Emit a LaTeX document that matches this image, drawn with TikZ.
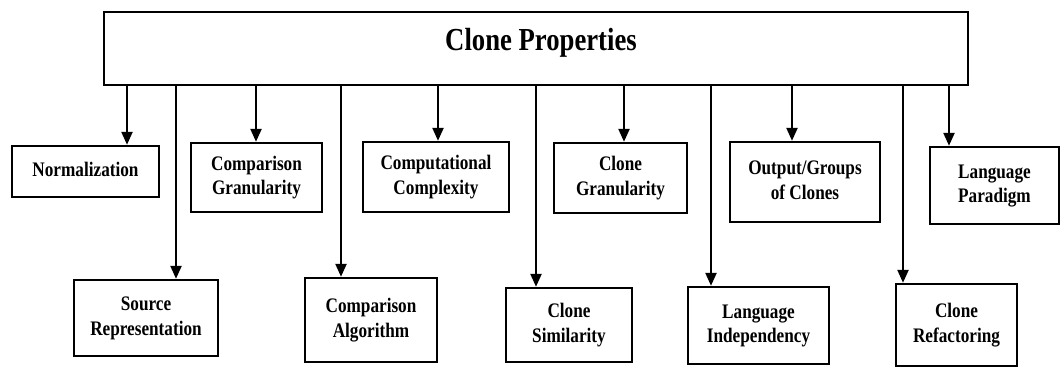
\documentclass[tikz,border=0pt]{standalone}
\usepackage{graphicx}
\usepackage{fontspec}
\setmainfont{Liberation Serif}
\usetikzlibrary{arrows.meta}
\newcommand\vtxt[1]{\scalebox{1}[1.2]{\fontsize{17.2}{20.8}\selectfont\bfseries\begin{tabular}{@{}c@{}}#1\end{tabular}}}
\begin{document}
\begin{tikzpicture}[x=1pt,y=-1pt,
  box/.style={draw,line width=2.4pt,align=center,inner sep=0pt},
  arr/.style={line width=2.3pt,-{Triangle[width=11pt,length=13pt]}}]
\useasboundingbox (0,0) rectangle (1061,367);
\node[draw,line width=2.4pt,minimum width=864pt,minimum height=73pt,inner sep=0pt] (top) at (536,48.5) {};
\node[inner sep=0pt] (title) at (541,42.5) {\scalebox{1}[1.2]{\bfseries\fontsize{26.7}{30}\selectfont Clone Properties}};
% top row
\node[box,minimum width=147pt,minimum height=51pt] (norm) at (85.5,171.5) {\vtxt{Normalization}};
\node[box,minimum width=131pt,minimum height=69pt] (cgran) at (256.5,177.5) {\vtxt{Comparison\\Granularity}};
\node[box,minimum width=146pt,minimum height=70pt] (ccomp) at (436,177) {\vtxt{Computational\\Complexity}};
\node[box,minimum width=133pt,minimum height=70pt] (clgran) at (620.5,178) {\vtxt{Clone\\Granularity}};
\node[box,minimum width=150pt,minimum height=80pt] (out) at (805,182) {\vtxt{Output/Groups\\of Clones}};
\node[box,minimum width=129pt,minimum height=77pt] (lpar) at (994.5,185.5) {\vtxt{Language\\Paradigm}};
% bottom row
\node[box,minimum width=144pt,minimum height=76pt] (srcrep) at (146,318) {\vtxt{Source\\Representation}};
\node[box,minimum width=132pt,minimum height=84pt] (calg) at (371,320) {\vtxt{Comparison\\Algorithm}};
\node[box,minimum width=126pt,minimum height=74pt] (csim) at (569,325) {\vtxt{Clone\\Similarity}};
\node[box,minimum width=141pt,minimum height=77pt] (lind) at (758.5,325.5) {\vtxt{Language\\Independency}};
\node[box,minimum width=121pt,minimum height=82pt] (cref) at (956.5,325) {\vtxt{Clone\\Refactoring}};
% connectors
\draw[arr] (top.south -| 127,0) -- (norm.north -| 127,0);
\draw[arr] (top.south -| 256,0) -- (cgran.north -| 256,0);
\draw[arr] (top.south -| 438,0) -- (ccomp.north -| 438,0);
\draw[arr] (top.south -| 624,0) -- (clgran.north -| 624,0);
\draw[arr] (top.south -| 792,0) -- (out.north -| 792,0);
\draw[arr] (top.south -| 949,0) -- (lpar.north -| 949,0);
\draw[arr] (top.south -| 176,0) -- (srcrep.north -| 176,0);
\draw[arr] (top.south -| 341,0) -- (calg.north -| 341,0);
\draw[arr] (top.south -| 536,0) -- (csim.north -| 536,0);
\draw[arr] (top.south -| 711,0) -- (lind.north -| 711,0);
\draw[arr] (top.south -| 903,0) -- (cref.north -| 903,0);
\end{tikzpicture}
\end{document}
